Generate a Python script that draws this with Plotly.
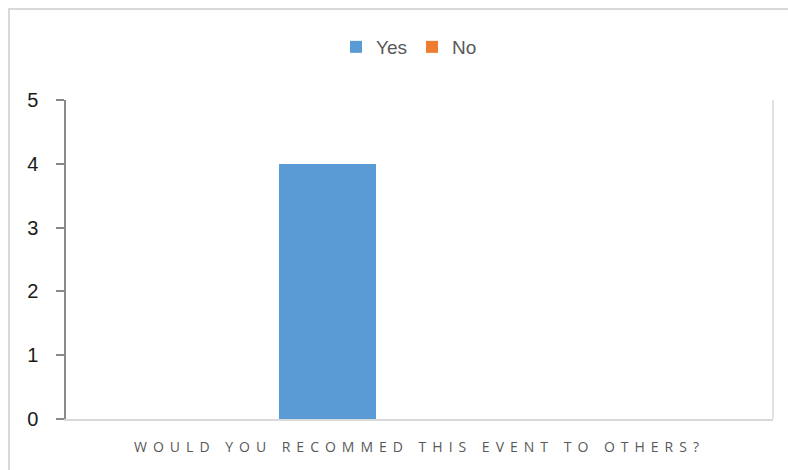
import plotly.graph_objects as go

categories = ["WOULD YOU RECOMMED THIS EVENT TO OTHERS?"]
series_names = ["Yes", "No"]
yes_values = [4]
no_values = [0]
y_ticks = [0, 1, 2, 3, 4, 5]

W, H = 788, 470
L, R, T, B = 66, 15, 100, 51
pw, ph = W - L - R, H - T - B

fig = go.Figure()
fig.add_trace(go.Bar(name=series_names[0], x=categories, y=yes_values,
                     marker=dict(color="#5B9BD5", line=dict(width=0)),
                     offset=-0.1987, width=0.1372))
fig.add_trace(go.Bar(name=series_names[1], x=categories, y=no_values,
                     marker=dict(color="#ED7D31", line=dict(width=0)),
                     offset=-0.0615, width=0.1372))

# outer chart border (extends beyond the image at right/bottom)
fig.add_shape(type="rect", xref="paper", yref="paper",
              x0=(9 - L) / pw, x1=(W + 10 - L) / pw,
              y0=-(H + 10 - (H - B)) / ph, y1=1 + (T - 9) / ph,
              line=dict(color="#D9D9D9", width=2), layer="below")
# right border of plot area
fig.add_shape(type="line", xref="paper", yref="paper", x0=1, x1=1, y0=0, y1=1,
              line=dict(color="#D9D9D9", width=1.5))

fig.update_layout(
    width=W, height=H,
    margin=dict(l=L, r=R, t=T, b=B, pad=0),
    paper_bgcolor="white", plot_bgcolor="white",
    font=dict(family="Open Sans", color="#595959"),
    showlegend=True,
    legend=dict(orientation="h", x=(409 - L) / pw, xanchor="center", y=1 + (T - 47) / ph,
                yanchor="middle", font=dict(size=19, color="#595959", family="Liberation Sans"),
                itemwidth=30, tracegroupgap=0, traceorder="normal"),
    xaxis=dict(type="category", range=[-0.5, 0.5], showline=True, linecolor="#D9D9D9",
               linewidth=1.5, ticks="", showgrid=False, zeroline=False,
               ticklabelstandoff=14,
               tickfont=dict(size=14, color="#595959", family="Open Sans")),
    yaxis=dict(range=[0, 5], tickvals=y_ticks, showline=True, linecolor="#898989",
               linewidth=1.5, ticks="outside", ticklen=8, tickcolor="#898989",
               tickwidth=1.5, showgrid=False, zeroline=False, ticklabelstandoff=14,
               tickfont=dict(size=20, color="#1a1a1a", family="Liberation Sans")),
    bargap=0,
)

post = """
var s=document.createElement('style');
s.innerHTML='html,body{margin:0;padding:0;overflow:hidden} .xtick text{letter-spacing:6px}';
document.head.appendChild(s);
"""
fig.write_html("out.html", post_script=post, config={"displayModeBar": False})
